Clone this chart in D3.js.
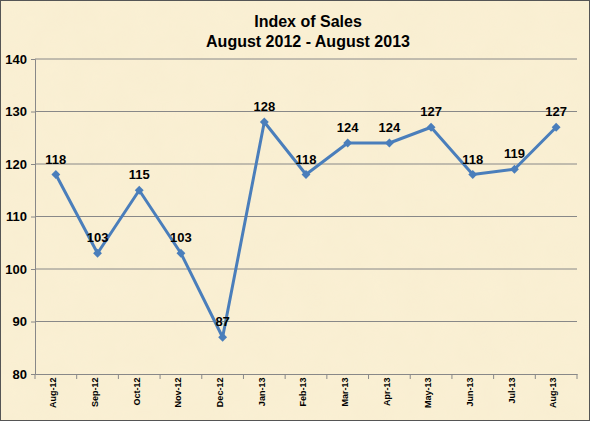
<!DOCTYPE html>
<html><head><meta charset="utf-8">
<script src="https://cdn.jsdelivr.net/npm/d3@7"></script>
<style>body{margin:0;background:#fff}svg{display:block;font-family:"Liberation Sans",Arial,sans-serif}</style>
</head><body><svg width="590" height="421"></svg>
<script>
const months = ["Aug-12","Sep-12","Oct-12","Nov-12","Dec-12","Jan-13","Feb-13","Mar-13","Apr-13","May-13","Jun-13","Jul-13","Aug-13"];
const sales = [118,103,115,103,87,128,118,124,124,127,118,119,127];
const yTicks = [80,90,100,110,120,130,140];

const svg = d3.select("svg");
const W = 590, H = 421;
const m = {left: 35, right: 13, top: 59, bottom: 47};

// parchment background
const defs = svg.append("defs");
const f = defs.append("filter").attr("id","tex");
f.append("feTurbulence").attr("type","fractalNoise").attr("baseFrequency",0.03).attr("numOctaves",3).attr("seed",4);
f.append("feColorMatrix").attr("type","matrix")
  .attr("values","0 0 0 0 0.88  0 0 0 0 0.78  0 0 0 0 0.55  0 0 0 0.35 0");
f.append("feComposite").attr("in2","SourceGraphic").attr("operator","in");
svg.append("rect").attr("width",W).attr("height",H).attr("fill","#faf0d4");
svg.append("rect").attr("width",W).attr("height",H).attr("fill","#faf0d4").attr("filter","url(#tex)").attr("opacity",0.5);
svg.append("rect").attr("x",0.5).attr("y",0.5).attr("width",W-1).attr("height",H-1).attr("fill","none").attr("stroke","#555").attr("stroke-width",1);

const x = d3.scaleBand().domain(months).range([m.left, W-m.right]);
const y = d3.scaleLinear().domain([80,140]).range([H-m.bottom, m.top]);

// gridlines
svg.append("g").selectAll("line").data(yTicks.filter(d=>d>80)).join("line")
  .attr("x1",m.left).attr("x2",W-m.right).attr("y1",d=>y(d)).attr("y2",d=>y(d))
  .attr("stroke","#888").attr("stroke-width",1);

// y axis
const ya = svg.append("g").attr("transform",`translate(${m.left},0)`)
  .call(d3.axisLeft(y).tickValues(yTicks).tickSize(4).tickPadding(4));
ya.selectAll("text").attr("font-size",13).attr("font-weight","bold").attr("fill","#000");
ya.selectAll("line,path").attr("stroke","#888");

// x axis
const xa = svg.append("g").attr("transform",`translate(0,${H-m.bottom})`)
  .call(d3.axisBottom(x).tickSize(0));
xa.select("path").attr("stroke","#888");
xa.selectAll("text").attr("font-size",9).attr("font-weight","bold").attr("fill","#000")
  .attr("transform","rotate(-90)").attr("text-anchor","end").attr("dx","-0.4em").attr("dy","-0.3em");
svg.append("g").selectAll("line").data(months).join("line")
  .attr("x1",d=>x(d)+x.bandwidth()).attr("x2",d=>x(d)+x.bandwidth())
  .attr("y1",H-m.bottom).attr("y2",H-m.bottom+5).attr("stroke","#888");
svg.append("line").attr("x1",m.left).attr("x2",m.left).attr("y1",H-m.bottom).attr("y2",H-m.bottom+5).attr("stroke","#888");

const cx = d => x(d) + x.bandwidth()/2;
const pts = months.map((d,i)=>[cx(d), y(sales[i])]);
svg.append("path").attr("d", d3.line()(pts)).attr("fill","none")
  .attr("stroke","#4a7ebb").attr("stroke-width",3).attr("stroke-linejoin","round");
svg.append("g").selectAll("path").data(pts).join("path")
  .attr("d", d3.symbol(d3.symbolDiamond2, 50)())
  .attr("transform", p=>`translate(${p[0]},${p[1]})`).attr("fill","#4a7ebb");

svg.append("g").selectAll("text").data(months).join("text")
  .attr("x",cx).attr("y",(d,i)=>y(sales[i])-11).attr("text-anchor","middle")
  .attr("font-size",13).attr("font-weight","bold").text((d,i)=>sales[i]);

svg.append("text").attr("x",308).attr("y",27).attr("text-anchor","middle")
  .attr("font-size",16).attr("font-weight","bold").text("Index of Sales");
svg.append("text").attr("x",308).attr("y",47).attr("text-anchor","middle")
  .attr("font-size",16).attr("font-weight","bold").text("August 2012 - August 2013");
</script></body></html>
